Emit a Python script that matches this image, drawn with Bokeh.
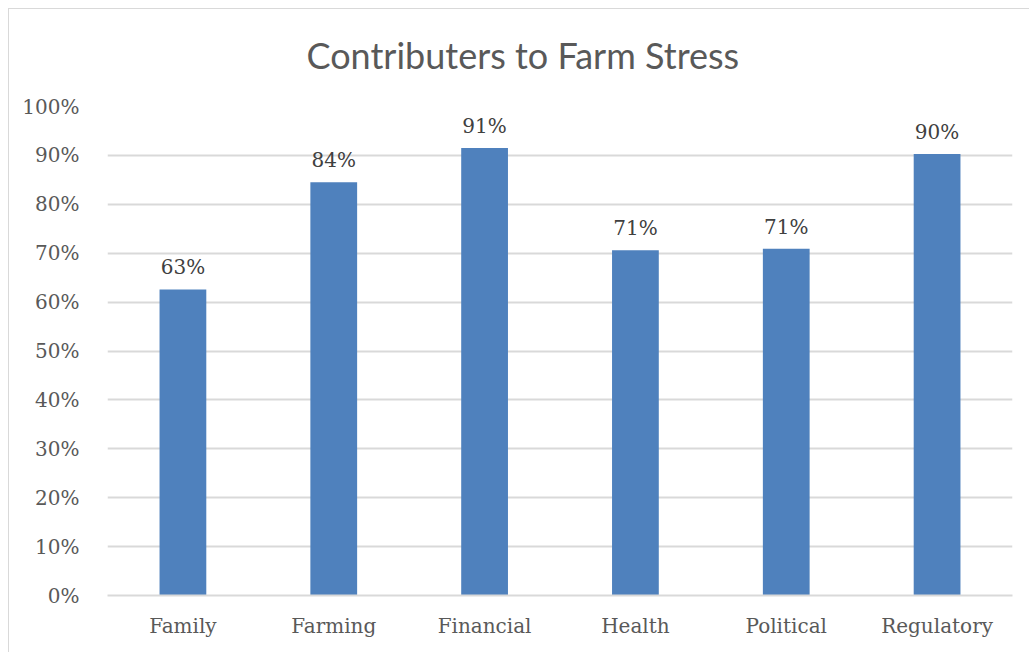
from bokeh.plotting import figure
from bokeh.models import ColumnDataSource, NumeralTickFormatter, FixedTicker, Range1d
from bokeh.core.properties import value
from bokeh.embed import file_html
from bokeh.resources import INLINE

categories = ["Family", "Farming", "Financial", "Health", "Political", "Regulatory"]
shares = [0.626, 0.845, 0.915, 0.706, 0.709, 0.903]
labels = ["63%", "84%", "91%", "71%", "71%", "90%"]
y_ticks = [0.0, 0.1, 0.2, 0.3, 0.4, 0.5, 0.6, 0.7, 0.8, 0.9, 1.0]

src = ColumnDataSource(dict(cat=categories, val=shares, lab=labels))

p = figure(x_range=categories, y_range=Range1d(0, 1), width=1029, height=652,
           output_backend="svg", toolbar_location=None,
           min_border_left=107, min_border_right=17, min_border_top=105, min_border_bottom=57)
# chart-area border (left and top edges visible) drawn as the page background behind the transparent border area
p.styles = {
    "background": ("linear-gradient(#d9d9d9,#d9d9d9) 8px 8px / 1px 100% no-repeat, "
                   "linear-gradient(#d9d9d9,#d9d9d9) 8px 8px / 100% 1px no-repeat, white")
}

p.title.text = "Contributers to Farm Stress"
p.title.align = "left"
p.title.offset = 199
p.title.text_font = "Lato"
p.title.text_font_size = "36px"
p.title.text_font_style = "normal"
p.title.text_color = "#595959"
p.title.standoff = 60

p.vbar(x="cat", top="val", width=0.31, source=src, color="#4F81BD", line_color=None)
p.text(x="cat", y="val", text="lab", source=src, text_align="center", text_baseline="bottom",
       y_offset=-10, text_font=value("DejaVu Serif"), text_font_size="20px", text_color="#404040")

p.outline_line_color = None
p.background_fill_color = "white"
p.border_fill_color = None

p.xgrid.grid_line_color = None
p.ygrid.grid_line_color = "#d9d9d9"
p.ygrid.grid_line_width = 2
p.ygrid.ticker = FixedTicker(ticks=y_ticks)

p.yaxis.ticker = FixedTicker(ticks=y_ticks)
p.yaxis.formatter = NumeralTickFormatter(format="0%")
p.yaxis.axis_line_color = None
p.yaxis.major_tick_line_color = None
p.yaxis.minor_tick_line_color = None
p.yaxis.major_label_standoff = 22
p.yaxis.major_label_text_font = "DejaVu Serif"
p.yaxis.major_label_text_font_size = "20px"
p.yaxis.major_label_text_color = "#595959"

p.xaxis.axis_line_color = "#d9d9d9"
p.xaxis.axis_line_width = 2
p.xaxis.major_tick_line_color = None
p.xaxis.minor_tick_line_color = None
p.xaxis.major_label_standoff = 12
p.xaxis.major_label_text_font = "DejaVu Serif"
p.xaxis.major_label_text_font_size = "20px"
p.xaxis.major_label_text_color = "#595959"

open("out.html", "w").write(file_html(p, INLINE))
